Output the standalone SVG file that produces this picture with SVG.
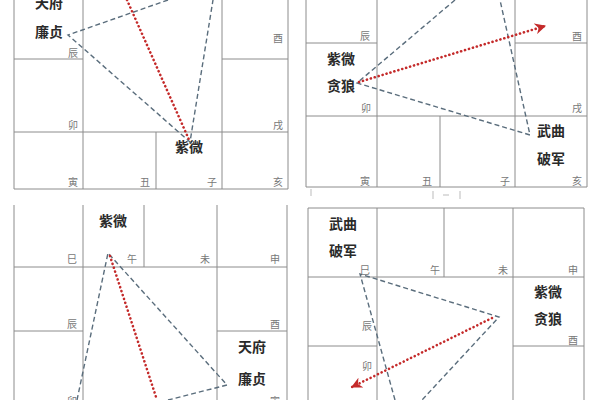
<svg xmlns="http://www.w3.org/2000/svg" width="600" height="400" viewBox="0 0 600 400">
<defs>
<style>
.g{stroke:#8c8c8c;stroke-width:1;fill:none}
.b{font-family:"Noto Sans CJK SC","Liberation Serif",serif;font-size:10px;fill:#777;text-anchor:end}
.s{font-family:"Noto Sans CJK SC","Liberation Serif",serif;font-size:14px;font-weight:bold;fill:#2a2a2a;text-anchor:middle}
.d{stroke:#5a6d7c;stroke-width:1.4;stroke-dasharray:5 3;fill:none}
.r{stroke:#c42a2a;stroke-width:2.6;stroke-dasharray:0.1 4;stroke-linecap:round;fill:none}
</style>
<marker id="ah" viewBox="0 0 10 10" refX="9" refY="5" markerWidth="11" markerHeight="11" markerUnits="userSpaceOnUse" orient="auto">
<path d="M0,0 L10,5 L0,10 L3,5 z" fill="#c42a2a"/>
</marker>
</defs>
<rect width="600" height="400" fill="#fff"/>

<g id="chart1">
<path class="g" d="M14,0V189M83,0V189M156,132V189M222,0V189M288,0V189M14,59H83M222,59H288M14,132H288M14,189H288"/>
<text class="b" x="78" y="57">辰</text>
<text class="b" x="283" y="42">酉</text>
<text class="b" x="78" y="129">卯</text>
<text class="b" x="283" y="129">戌</text>
<text class="b" x="78" y="186">寅</text>
<text class="b" x="150" y="186">丑</text>
<text class="b" x="217" y="186">子</text>
<text class="b" x="283" y="186">亥</text>
<g id="c1-tianfu"><text class="s" x="49" y="8">天府</text><text class="s" x="49" y="37">廉贞</text></g>
<g id="c1-ziwei"><text class="s" x="189" y="152">紫微</text></g>
</g>

<g id="chart2">
<path class="g" d="M306,0V187M377,0V187M440,116V187M515,0V187M587,0V187M306,43H377M515,43H587M306,116H587M306,187H587"/>
<path stroke="#bbb" stroke-width="1" fill="none" d="M311,189V196M433,191V199M460,191V199M443,195H449"/>
<text class="b" x="370" y="40">辰</text>
<text class="b" x="582" y="40">酉</text>
<text class="b" x="371" y="112">卯</text>
<text class="b" x="582" y="112">戌</text>
<text class="b" x="370" y="185">寅</text>
<text class="b" x="432" y="185">丑</text>
<text class="b" x="510" y="185">子</text>
<text class="b" x="582" y="185">亥</text>
<g id="c2-ziwei"><text class="s" x="341" y="64">紫微</text><text class="s" x="341" y="91">贪狼</text></g>
<g id="c2-wuqu"><text class="s" x="551" y="136">武曲</text><text class="s" x="551" y="164">破军</text></g>
</g>

<g id="chart3">
<path class="g" d="M14,205V400M83,205V400M144,205V267M217,205V400M287,205V400M14,267H287M14,331H83M217,331H287"/>
<text class="b" x="77" y="263">巳</text>
<text class="b" x="137" y="263">午</text>
<text class="b" x="210" y="263">未</text>
<text class="b" x="280" y="263">申</text>
<text class="b" x="77" y="328">辰</text>
<text class="b" x="280" y="328">酉</text>
<text class="b" x="77" y="405">卯</text>
<text class="b" x="280" y="405">寅</text>
<g id="c3-ziwei"><text class="s" x="113" y="226">紫微</text></g>
<g id="c3-tianfu"><text class="s" x="252" y="352">天府</text><text class="s" x="252" y="384">廉贞</text></g>
</g>

<g id="chart4">
<path class="g" d="M308,208V400M377,208V400M444,208V277M513,208V400M584,208V400M308,208H584M308,277H584M308,346H377M513,346H584"/>
<text class="b" x="370" y="274">巳</text>
<text class="b" x="440" y="274">午</text>
<text class="b" x="508" y="274">未</text>
<text class="b" x="578" y="274">申</text>
<text class="b" x="372" y="330">辰</text>
<text class="b" x="578" y="344">酉</text>
<text class="b" x="372" y="370">卯</text>
<g id="c4-wuqu"><text class="s" x="343" y="229">武曲</text><text class="s" x="343" y="256">破军</text></g>
<g id="c4-ziwei"><text class="s" x="548" y="297">紫微</text><text class="s" x="548" y="324">贪狼</text></g>
</g>

<g id="connectors">
<path class="d" d="M168,0L68,35L190,142L213,0"/>
<path class="r" d="M127,0L190,142"/>
<path class="d" d="M455,0L357,83L530,135L500,0"/>
<path class="r" d="M359,82L545,26" marker-end="url(#ah)"/>
<path class="d" d="M77,400L108,253L227,385L168,400"/>
<path class="r" d="M110,256L157,400"/>
<path class="d" d="M395,400L360,274L499,317L422,400"/>
<path class="r" d="M492,318L352,387" marker-end="url(#ah)"/>
</g>
</svg>
